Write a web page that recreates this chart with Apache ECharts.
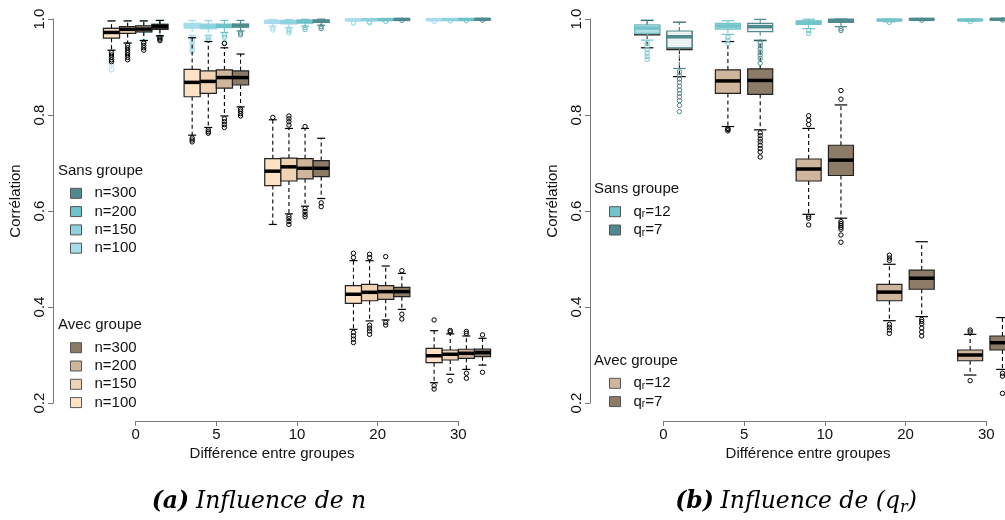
<!DOCTYPE html>
<html><head><meta charset="utf-8">
<script src="https://cdn.jsdelivr.net/npm/echarts@6/dist/echarts.min.js"></script>
<style>html,body{margin:0;padding:0;background:#fff}#c{width:1005px;height:520px}</style>
</head><body><div id="c"></div>
<script>
// ---------- DATA ----------
const categories = ['0', '5', '10', '20', '30'];
// each box: [lowerWhisker, Q1, median, Q3, upperWhisker]
// Panel (a): Sans groupe
const sans100 = [[0.935,0.962,0.973,0.981,0.996],[0.966,0.981,0.986,0.991,0.997],[0.985,0.991,0.9945,0.997,0.999],[0.995,0.997,0.998,0.999,0.9998],[0.9965,0.9978,0.9986,0.9993,0.9999]];
const sans100Out = [[0.925,0.915,0.905,0.894],[0.96,0.955,0.95,0.945,0.94,0.935,0.932],[0.981,0.977],[0.993,0.991],[0.995]];
const sans150 = [[0.95,0.97,0.978,0.984,0.996],[0.966,0.98,0.985,0.9896,0.9965],[0.982,0.99,0.994,0.997,0.999],[0.996,0.9975,0.9985,0.9992,0.9999],[0.997,0.998,0.9988,0.9994,0.99995]];
const sans150Out = [[0.94,0.93],[0.962,0.958,0.955],[0.978,0.975,0.971],[0.994,0.992],[0.996]];
const sans200 = [[0.956,0.973,0.979,0.9855,0.996],[0.972,0.982,0.986,0.9896,0.997],[0.985,0.9915,0.995,0.9975,0.9995],[0.9965,0.998,0.9988,0.9994,1.0],[0.9975,0.9985,0.999,0.9995,1.0]];
const sans200Out = [[0.95],[0.967,0.962,0.951],[0.982,0.978],[0.995],[0.9965]];
const sans300 = [[0.965,0.9785,0.984,0.989,0.997],[0.975,0.983,0.9865,0.9896,0.997],[0.987,0.993,0.9955,0.9978,0.9998],[0.998,0.9988,0.9992,0.9996,1.0],[0.9982,0.999,0.9994,0.9997,1.0]];
const sans300Out = [[0.96],[0.971,0.967],[0.984,0.98],[0.9972],[0.9975]];
// Panel (a): Avec groupe
const avec100 = [[0.935,0.96,0.972,0.9806,0.996],[0.758,0.838,0.868,0.895,0.961],[0.572,0.653,0.683,0.709,0.79],[0.3535,0.4077,0.4265,0.4444,0.4965],[0.2423,0.284,0.2985,0.314,0.3506]];
const avec100Out = [[0.93,0.925,0.92,0.915,0.911],[0.752,0.748,0.744],[0.795],[0.503,0.512,0.347,0.34,0.333,0.326],[0.373,0.236,0.229]];
const avec150 = [[0.95,0.97,0.9785,0.984,0.996],[0.774,0.845,0.87,0.892,0.953],[0.594,0.6625,0.692,0.71,0.772],[0.371,0.413,0.4306,0.4473,0.4965],[0.2598,0.2896,0.3015,0.3104,0.344]];
const avec150Out = [[0.945,0.94,0.935,0.93,0.925,0.92,0.915],[0.769,0.765,0.762],[0.779,0.786,0.792,0.798,0.589,0.584,0.578,0.572],[0.503,0.51,0.362,0.356,0.35,0.343],[0.348,0.351,0.2465]];
const avec200 = [[0.955,0.973,0.979,0.9855,0.996],[0.798,0.856,0.878,0.894,0.94],[0.61,0.667,0.689,0.709,0.772],[0.373,0.416,0.432,0.4444,0.4854],[0.27,0.293,0.3035,0.312,0.3396]];
const avec200Out = [[0.95,0.945,0.94,0.935],[0.949,0.792,0.786,0.78,0.774],[0.776,0.605,0.599,0.593,0.588],[0.505,0.368,0.3625],[0.345,0.349,0.262,0.2515]];
const avec300 = [[0.965,0.9785,0.984,0.989,0.997],[0.817,0.8625,0.878,0.892,0.927],[0.626,0.6715,0.689,0.705,0.7515],[0.395,0.4215,0.432,0.441,0.47],[0.279,0.2965,0.305,0.3125,0.3348]];
const avec300Out = [[0.962,0.958,0.955],[0.812,0.808,0.803,0.798],[0.617,0.609],[0.4756,0.385,0.375],[0.342,0.264]];
// Panel (b): Sans groupe
const sansQ12 = [[0.956,0.97,0.981,0.9875,0.998],[0.968,0.979,0.9854,0.991,0.9965],[0.98,0.989,0.993,0.996,0.9995],[0.994,0.9968,0.9978,0.9986,0.9998],[0.9955,0.997,0.998,0.9988,0.9999]];
const sansQ12Out = [[0.95,0.943,0.936,0.929,0.922,0.916],[0.962,0.956,0.949],[0.976,0.97],[0.993],[0.9945]];
const sansQ7 = [[0.897,0.94,0.963,0.975,0.993],[0.956,0.9735,0.984,0.991,0.9993],[0.984,0.993,0.997,0.9995,1.0],[0.9982,0.999,0.9993,0.9996,1.0],[0.9985,0.9992,0.9995,0.9997,1.0]];
const sansQ7Out = [[0.89,0.882,0.875,0.868,0.86,0.852,0.845,0.838,0.83,0.82,0.807],[0.95,0.944,0.938,0.931,0.925,0.918,0.908],[0.98,0.976],[0.9975],[0.998]];
// Panel (b): Avec groupe
const avecQ12 = [[0.94,0.967,0.979,0.987,0.997],[0.776,0.845,0.871,0.894,0.953],[0.593,0.6625,0.6875,0.7083,0.772],[0.3715,0.413,0.431,0.4473,0.489],[0.2583,0.288,0.3,0.3104,0.343]];
const avecQ12Out = [[],[0.772,0.77,0.767],[0.78,0.789,0.7985,0.589,0.585,0.571],[0.497,0.502,0.508,0.364,0.358,0.352,0.345],[0.348,0.352,0.2465]];
const avecQ7 = [[0.88,0.936,0.961,0.974,0.993],[0.769,0.843,0.872,0.896,0.955],[0.585,0.674,0.706,0.737,0.821],[0.38,0.437,0.46,0.477,0.536],[0.27,0.3104,0.3256,0.3396,0.378]];
const avecQ7Out = [[],[0.763,0.757,0.75,0.744,0.737,0.73,0.723,0.7125],[0.833,0.851,0.578,0.574,0.57,0.566,0.562,0.55,0.535],[0.374,0.37,0.365,0.356,0.348,0.3396],[0.262,0.256,0.22]];

// ---------- RENDER ----------
const chart = echarts.init(document.getElementById('c'));
const FONT = 'Liberation Sans, Arial, sans-serif';

function renderer(offset, width, color, teal, tint, outliers) {
  const fill = teal ? echarts.color.lerp(tint, ['#ffffff', color]) : color;
  return function (params, api) {
    const g = api.value(0);
    const lo = api.value(1), q1 = api.value(2), med = api.value(3), q3 = api.value(4), hi = api.value(5);
    const xc = g + offset;
    const tl = api.coord([xc - width / 2, q3]);
    const br = api.coord([xc + width / 2, q1]);
    const cx = api.coord([xc, med])[0];
    const capL = api.coord([xc - width / 4, hi])[0];
    const capR = api.coord([xc + width / 4, hi])[0];
    const yv = v => api.coord([xc, v])[1];
    const lc = teal ? color : '#000';
    const ch = [];
    ch.push({type: 'line', shape: {x1: cx, y1: yv(q3), x2: cx, y2: yv(hi)}, style: {stroke: lc, lineWidth: 1.1, lineDash: [4, 3]}});
    ch.push({type: 'line', shape: {x1: cx, y1: yv(q1), x2: cx, y2: yv(lo)}, style: {stroke: lc, lineWidth: 1.1, lineDash: [4, 3]}});
    ch.push({type: 'line', shape: {x1: capL, y1: yv(hi), x2: capR, y2: yv(hi)}, style: {stroke: lc, lineWidth: 1.2}});
    ch.push({type: 'line', shape: {x1: capL, y1: yv(lo), x2: capR, y2: yv(lo)}, style: {stroke: lc, lineWidth: 1.2}});
    ch.push({type: 'rect', shape: {x: tl[0], y: tl[1], width: br[0] - tl[0], height: Math.max(br[1] - tl[1], 0.5)},
      style: {fill: fill, stroke: teal ? color : '#222', lineWidth: 1.2}});
    ch.push({type: 'line', shape: {x1: tl[0], y1: yv(med), x2: br[0], y2: yv(med)}, style: {stroke: teal ? color : '#000', lineWidth: 3.5}});
    (outliers[params.dataIndex] || []).forEach(v => {
      ch.push({type: 'circle', shape: {cx: cx, cy: yv(v), r: 2.2}, style: {fill: 'none', stroke: lc, lineWidth: 1}});
    });
    return {type: 'group', children: ch};
  };
}

function mk(name, arr, out, gridIdx, offset, width, color, teal, tint) {
  return {
    type: 'custom', name: name, xAxisIndex: gridIdx, yAxisIndex: gridIdx,
    itemStyle: {color: color},
    encode: {x: 0, y: [1, 2, 3, 4, 5]},
    data: arr.map((b, i) => [i].concat(b)),
    renderItem: renderer(offset, width, color, teal, tint, out),
    clip: false
  };
}

const C = {
  s300: '#4e8a8e', s200: '#6fc3c8', s150: '#8dd3df', s100: '#a7dcec',
  a300: '#8b7a66', a200: '#cfb59b', a150: '#efd3b4', a100: '#fde2c5',
  q12s: '#72c4ca', q7s: '#4f8a8e', q12a: '#cfb59c', q7a: '#8c7b67'
};
const offA = [-0.3, -0.1, 0.1, 0.3], wA = 0.2;
const offB = [-0.2, 0.2], wB = 0.31;

const series = [
  mk('Ls100', sans100, sans100Out, 0, offA[0], wA, C.s100, true, 0.9),
  mk('Ls150', sans150, sans150Out, 0, offA[1], wA, C.s150, true, 0.9),
  mk('Ls200', sans200, sans200Out, 0, offA[2], wA, C.s200, true, 0.9),
  mk('Ls300', sans300, sans300Out, 0, offA[3], wA, C.s300, true, 0.9),
  mk('La100', avec100, avec100Out, 0, offA[0], wA, C.a100, false),
  mk('La150', avec150, avec150Out, 0, offA[1], wA, C.a150, false),
  mk('La200', avec200, avec200Out, 0, offA[2], wA, C.a200, false),
  mk('La300', avec300, avec300Out, 0, offA[3], wA, C.a300, false),
  mk('Ra12', avecQ12, avecQ12Out, 1, offB[0], wB, C.q12a, false),
  mk('Ra7', avecQ7, avecQ7Out, 1, offB[1], wB, C.q7a, false),
  mk('Rs12', sansQ12, sansQ12Out, 1, offB[0], wB, C.q12s, true, 0.55),
  mk('Rs7', sansQ7, sansQ7Out, 1, offB[1], wB, C.q7s, true, 0.1)
];

const legendLabels = {
  Ls300: 'n=300', Ls200: 'n=200', Ls150: 'n=150', Ls100: 'n=100',
  La300: 'n=300', La200: 'n=200', La150: 'n=150', La100: 'n=100',
  Rs12: 'q{sub|r}=12', Rs7: 'q{sub|r}=7', Ra12: 'q{sub|r}=12', Ra7: 'q{sub|r}=7'
};
const legendColor = {Ls300: C.s300, Ls200: C.s200, Ls150: C.s150, Ls100: C.s100,
  La300: C.a300, La200: C.a200, La150: C.a150, La100: C.a100,
  Rs12: C.q12s, Rs7: C.q7s, Ra12: C.q12a, Ra7: C.q7a};

function legend(names, left, top, gap, lh) {
  return {
    orient: 'vertical', left: left, top: top, padding: 0, itemGap: gap,
    itemWidth: 11, itemHeight: 10, icon: 'rect', selectedMode: false,
    data: names.map(n => ({name: n, itemStyle: {color: legendColor[n], borderColor: '#555', borderWidth: 1}})),
    formatter: n => legendLabels[n],
    textStyle: {fontFamily: FONT, fontSize: 15, color: '#111', padding: [0, 0, 0, 8], lineHeight: lh,
      rich: {sub: {fontFamily: FONT, fontSize: 10, color: '#111', verticalAlign: 'bottom', lineHeight: 10}}}
  };
}

function xAx(gi) {
  return {
    type: 'value', gridIndex: gi, min: 0, max: 4, interval: 1, offset: 18,
    axisLine: {onZero: false, lineStyle: {color: '#777', width: 1}},
    axisTick: {length: 5, lineStyle: {color: '#777'}},
    splitLine: {show: false},
    axisLabel: {fontFamily: FONT, fontSize: 15, color: '#111', margin: 6, formatter: v => categories[v]}
  };
}
function yAx(gi, off) {
  return {
    type: 'value', gridIndex: gi, min: 0.2, max: 1.0, interval: 0.2, offset: off,
    axisLine: {show: true, onZero: false, lineStyle: {color: '#777', width: 1}},
    axisTick: {show: true, length: 5, lineStyle: {color: '#777'}},
    splitLine: {show: false},
    axisLabel: {fontFamily: FONT, fontSize: 15, color: '#111', margin: 6, rotate: 90, formatter: v => v.toFixed(1)}
  };
}

function txt(x, y, text, extra) {
  return {type: 'text', x: x, y: y, style: Object.assign({text: text, fontFamily: FONT, fontSize: 15, fill: '#111', align: 'center', verticalAlign: 'middle'}, extra || {})};
}

const capRich = {
  b: {fontFamily: 'DejaVu Serif', fontSize: 23.5, fontStyle: 'italic', fontWeight: 'bold', color: '#222', lineHeight: 28},
  i: {fontFamily: 'DejaVu Serif', fontSize: 23.5, fontStyle: 'italic', color: '#222', lineHeight: 28},
  s: {fontFamily: 'DejaVu Serif', fontSize: 16, fontStyle: 'italic', color: '#222', lineHeight: 16, verticalAlign: 'bottom'}
};

chart.setOption({
  animation: false,
  backgroundColor: '#fff',
  grid: [
    {left: 135.7, top: 19, width: 322.6, height: 384},
    {left: 663.3, top: 19, width: 323, height: 384}
  ],
  xAxis: [xAx(0), xAx(1)],
  yAxis: [yAx(0, 82.7), yAx(1, 73.3)],
  legend: [
    legend(['Ls300', 'Ls200', 'Ls150', 'Ls100'], 70, 185.8, 3.3, 15),
    legend(['La300', 'La200', 'La150', 'La100'], 70, 340.2, 3.3, 15),
    legend(['Rs12', 'Rs7'], 609, 203.7, 2.3, 16),
    legend(['Ra12', 'Ra7'], 609, 375.3, 2.3, 16)
  ],
  graphic: [
    txt(58, 170.7, 'Sans groupe', {align: 'left'}),
    txt(58, 325, 'Avec groupe', {align: 'left'}),
    txt(594, 189, 'Sans groupe', {align: 'left'}),
    txt(594, 361, 'Avec groupe', {align: 'left'}),
    txt(272, 454, 'Différence entre groupes'),
    txt(808, 454, 'Différence entre groupes'),
    Object.assign(txt(16, 201, 'Corrélation'), {rotation: Math.PI / 2}),
    Object.assign(txt(553, 201, 'Corrélation'), {rotation: Math.PI / 2}),
    {type: 'text', x: 259, y: 502, style: {text: '{b|(a)}  {i|Influence de n}', rich: capRich, align: 'center', verticalAlign: 'middle'}},
    {type: 'text', x: 796, y: 502, style: {text: '{b|(b)}  {i|Influence de (q}{s|r}{i|)}', rich: capRich, align: 'center', verticalAlign: 'middle'}}
  ],
  series: series
});
</script></body></html>
